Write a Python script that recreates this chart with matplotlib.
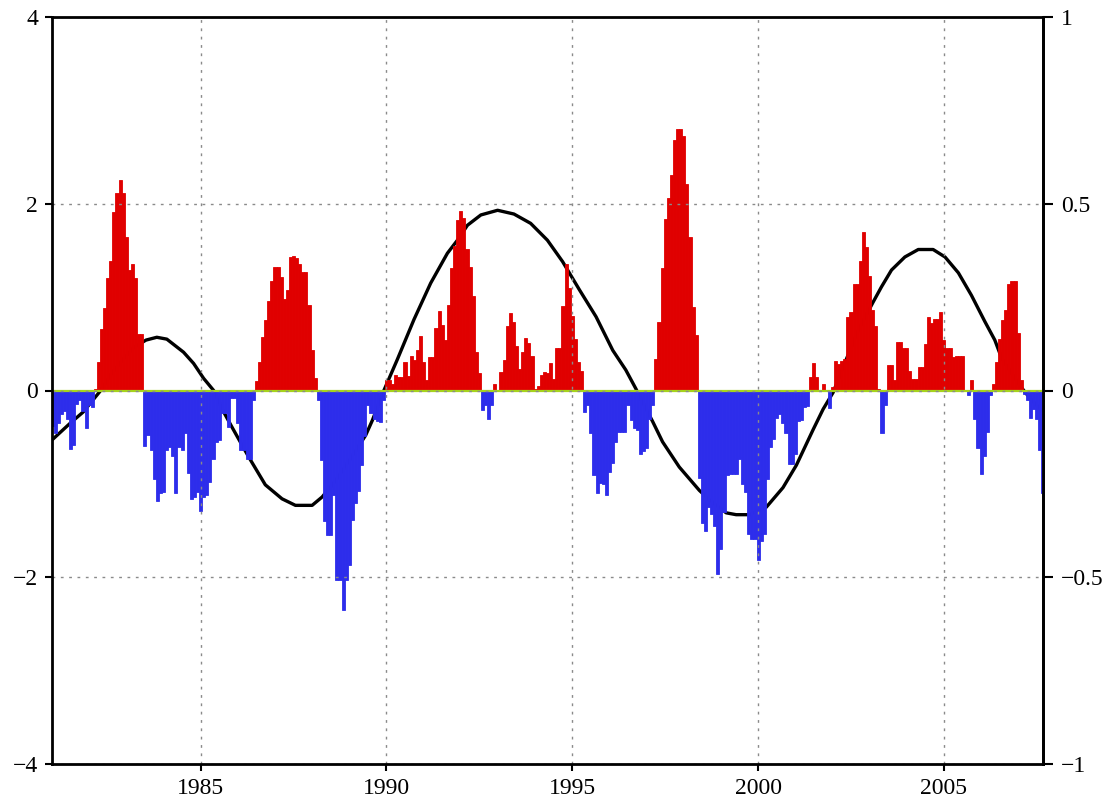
import numpy as np
import pandas as pd
import matplotlib
matplotlib.use("Agg")
import matplotlib.pyplot as plt

# ---------------- data ----------------
start_year = 1981  # monthly series, Jan 1981 onwards

anom_1981_1983 = [-0.38, -0.45, -0.35, -0.25, -0.22, -0.30, -0.63, -0.58, -0.14, -0.10, -0.22, -0.40,
                  -0.16, -0.18, 0.02, 0.30, 0.66, 0.88, 1.20, 1.39, 1.91, 2.11, 2.25, 2.12,
                  1.64, 1.29, 1.36, 1.20, 0.61, 0.61, -0.59, -0.48, -0.64, -0.95, -1.18, -1.10]
anom_1984_1986 = [-1.09, -0.64, -0.60, -0.70, -1.10, -0.60, -0.64, -0.46, -0.88, -1.16, -1.14, -1.09,
                  -1.29, -1.14, -1.12, -0.98, -0.73, -0.55, -0.53, -0.24, -0.24, -0.39, -0.08, -0.08,
                  -0.35, -0.64, -0.64, -0.73, -0.73, -0.10, 0.10, 0.30, 0.57, 0.75, 0.96, 1.17]
anom_1987_1989 = [1.32, 1.32, 1.22, 0.98, 1.08, 1.43, 1.44, 1.42, 1.36, 1.27, 1.27, 0.92,
                  0.43, 0.13, -0.10, -0.74, -1.40, -1.55, -1.55, -1.12, -2.03, -2.03, -2.35, -2.03,
                  -1.87, -1.39, -1.20, -1.08, -0.80, -0.49, -0.15, -0.24, -0.31, -0.33, -0.34, -0.10]
anom_1990_1992 = [0.11, 0.11, 0.07, 0.17, 0.14, 0.14, 0.30, 0.16, 0.37, 0.33, 0.43, 0.58,
                  0.31, 0.11, 0.36, 0.36, 0.67, 0.85, 0.70, 0.54, 0.92, 1.31, 1.55, 1.83,
                  1.92, 1.85, 1.52, 1.32, 1.01, 0.41, 0.19, -0.21, -0.16, -0.31, -0.16, 0.07]
anom_1993_1995 = [0.01, 0.20, 0.33, 0.69, 0.83, 0.73, 0.48, 0.23, 0.41, 0.56, 0.51, 0.37,
                  0.02, 0.05, 0.17, 0.20, 0.19, 0.29, 0.12, 0.46, 0.46, 0.90, 1.36, 1.10,
                  0.80, 0.55, 0.30, 0.21, -0.23, -0.15, -0.45, -0.90, -1.10, -0.99, -1.00, -1.12]
anom_1996_1998 = [-0.87, -0.78, -0.55, -0.44, -0.44, -0.44, -0.15, -0.32, -0.40, -0.42, -0.68, -0.65,
                  -0.62, -0.31, -0.15, 0.34, 0.73, 1.31, 1.84, 2.06, 2.31, 2.68, 2.80, 2.80,
                  2.73, 2.21, 1.64, 0.89, 0.59, -0.94, -1.42, -1.51, -1.25, -1.32, -1.45, -1.96]
anom_1999_2001 = [-1.70, -1.30, -0.91, -0.89, -0.89, -0.89, -0.73, -1.00, -1.09, -1.54, -1.59, -1.59,
                  -1.82, -1.61, -1.54, -0.95, -0.61, -0.52, -0.29, -0.25, -0.35, -0.46, -0.79, -0.79,
                  -0.68, -0.33, -0.32, -0.18, -0.17, 0.14, 0.29, 0.14, 0.00, 0.07, 0.01, -0.19]
anom_2002_2004 = [0.04, 0.32, 0.28, 0.32, 0.34, 0.79, 0.84, 1.14, 1.14, 1.39, 1.70, 1.54,
                  1.23, 0.86, 0.69, 0.02, -0.46, -0.15, 0.27, 0.27, 0.11, 0.52, 0.52, 0.45,
                  0.45, 0.21, 0.12, 0.12, 0.25, 0.25, 0.50, 0.79, 0.72, 0.77, 0.77, 0.84]
anom_2005_2007 = [0.54, 0.46, 0.46, 0.36, 0.37, 0.37, 0.37, 0.01, -0.05, 0.11, -0.30, -0.62,
                  -0.89, -0.70, -0.44, -0.05, 0.07, 0.30, 0.55, 0.75, 0.86, 1.14, 1.17, 1.17,
                  0.62, 0.11, -0.04, -0.10, -0.29, -0.20, -0.31, -0.64, -1.10]

# smooth low-frequency curve (left-axis units)
curve_years = [1981.0, 1981.49, 1981.84, 1982.29, 1982.6, 1982.9, 1983.2, 1983.53, 1983.82, 1984.09,
               1984.54, 1984.81, 1985.08, 1985.35, 1985.62, 1985.84, 1986.29, 1986.74, 1987.19, 1987.55,
               1988.0, 1988.27, 1988.6, 1989.0, 1989.44, 1989.62, 1989.93, 1990.29, 1990.74, 1991.19,
               1991.64, 1991.91, 1992.18, 1992.54, 1992.99, 1993.43, 1993.88, 1994.33, 1994.74, 1995.19,
               1995.64, 1996.09, 1996.44, 1996.71, 1996.95, 1997.16, 1997.43, 1997.88, 1998.42, 1998.69,
               1999.14, 1999.41, 1999.77, 2000.22, 2000.67, 2001.03, 2001.48, 2001.75, 2002.02, 2002.38,
               2002.7, 2003.1, 2003.32, 2003.59, 2003.95, 2004.31, 2004.71, 2005.03, 2005.39, 2005.74,
               2006.1, 2006.37, 2006.55, 2006.8, 2007.05, 2007.25, 2007.45, 2007.67]
curve_values = [-0.53, -0.35, -0.23, -0.01, 0.18, 0.33, 0.46, 0.54, 0.57, 0.55,
                0.41, 0.29, 0.13, 0.00, -0.23, -0.39, -0.71, -1.01, -1.16, -1.23,
                -1.23, -1.14, -0.98, -0.75, -0.48, -0.32, 0.00, 0.33, 0.76, 1.15,
                1.47, 1.61, 1.77, 1.88, 1.93, 1.89, 1.79, 1.61, 1.38, 1.08,
                0.79, 0.43, 0.22, 0.02, -0.17, -0.33, -0.55, -0.82, -1.07, -1.17,
                -1.31, -1.33, -1.33, -1.25, -1.04, -0.80, -0.42, -0.20, -0.02, 0.34,
                0.65, 0.95, 1.11, 1.29, 1.43, 1.51, 1.51, 1.43, 1.26, 1.02,
                0.74, 0.54, 0.35, 0.20, 0.05, -0.05, -0.14, -0.22]

x_ticks = [1985, 1990, 1995, 2000, 2005]
left_ticks = [-4, -2, 0, 2, 4]
right_ticks = [-1, -0.5, 0, 0.5, 1]
right_labels = ["\u22121", "\u22120.5", "0", "0.5", "1"]

# ---------------- plot ----------------
anom = np.array(anom_1981_1983 + anom_1984_1986 + anom_1987_1989 + anom_1990_1992 +
                anom_1993_1995 + anom_1996_1998 + anom_1999_2001 + anom_2002_2004 + anom_2005_2007)
dates = pd.date_range(f"{start_year}-01-01", periods=len(anom), freq="MS")
t = start_year + (dates.year - start_year) + (dates.month - 1) / 12.0

plt.rcParams['font.family'] = ['Liberation Serif', 'DejaVu Serif']

fig = plt.figure(figsize=(11.15, 8.0), dpi=100)
ax = fig.add_axes([52/1115, 1 - 764/800, (1043 - 52)/1115, (764 - 17)/800])

red = '#e00000'
blue = '#2d2deb'
colors = np.where(anom >= 0, red, blue)

ax.plot(curve_years, curve_values, color='black', lw=2.4, zorder=0.8,
        solid_capstyle='round', solid_joinstyle='round')
ax.bar(t, anom, width=1/12, color=colors, edgecolor=colors, linewidth=0.6, zorder=1, align='center')
ax.axhline(0, color='#a6d41c', lw=1.6, zorder=2.3)

ax.set_xlim(1981.0, 1981 + 320/12)
ax.set_ylim(-4, 4)
ax.set_xticks(x_ticks)
ax.set_xticklabels([str(v) for v in x_ticks])
ax.set_yticks(left_ticks)
ax.set_yticklabels(["\u22124", "\u22122", "0", "2", "4"])

ax.grid(True, color='#8a8a8a', lw=1.0, linestyle=(0, (2, 4)))
ax.set_axisbelow(False)

for s in ax.spines.values():
    s.set_linewidth(2.0)
    s.set_color('black')
    s.set_zorder(5)

ax.tick_params(axis='both', direction='out', length=5, width=1.5, labelsize=17, pad=5, colors='black')

sec = ax.secondary_yaxis('right', functions=(lambda y: y / 4.0, lambda y: y * 4.0))
sec.set_yticks(right_ticks)
sec.set_yticklabels(right_labels)
sec.tick_params(direction='out', length=7, width=1.5, labelsize=17, pad=6)
sec.spines['right'].set_linewidth(2.0)

fig.savefig("out.png", dpi=100)
